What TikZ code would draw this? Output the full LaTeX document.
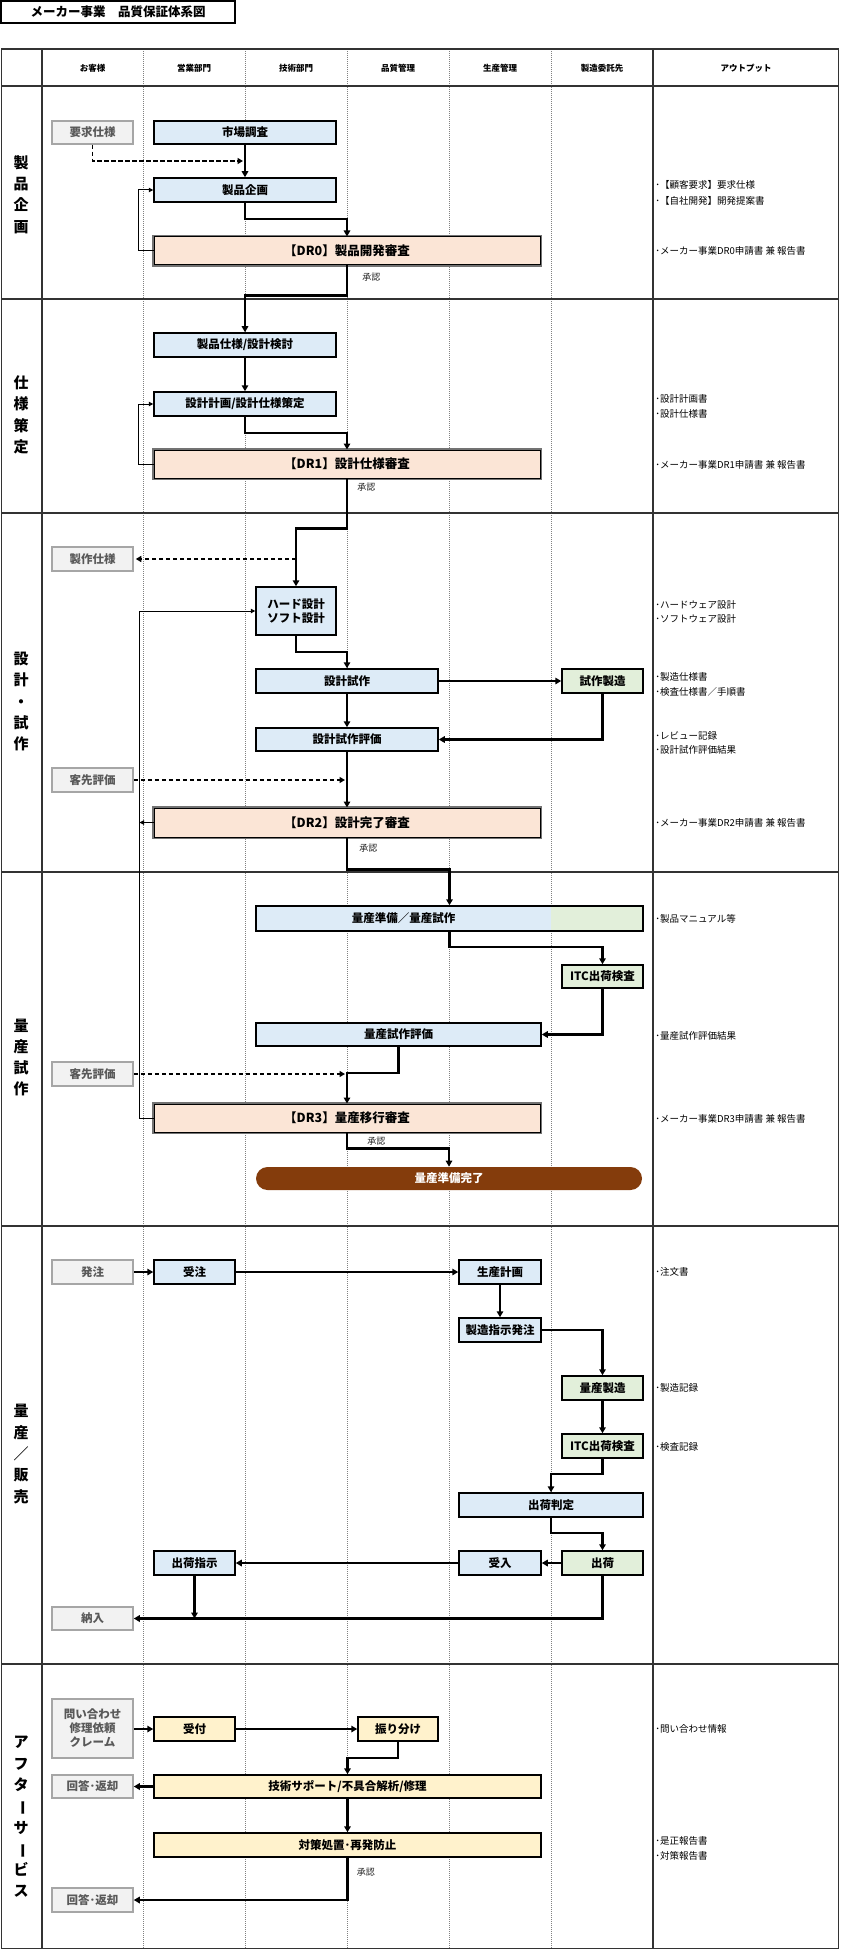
\documentclass[tikz,border=0pt]{standalone}
\usepackage{fontspec}
\setmainfont{Noto Sans CJK JP}
\usetikzlibrary{arrows.meta,calc,positioning}

\definecolor{bluefill}{HTML}{DDEBF7}
\definecolor{greenfill}{HTML}{E2EFDA}
\definecolor{peachfill}{HTML}{FBE5D6}
\definecolor{yellowfill}{HTML}{FFF2CC}
\definecolor{greyfill}{HTML}{F2F2F2}
\definecolor{greyline}{HTML}{A6A6A6}
\definecolor{greytext}{HTML}{595959}
\definecolor{brownfill}{HTML}{843C0C}
\definecolor{gridline}{HTML}{333333}

\tikzset{every picture/.style={line width=0.75pt}}
\tikzset{
  procbox/.style={draw=black, line width=1.5pt, minimum height=24, inner sep=0pt,
    align=center, font=\fontsize{11.5}{14}\selectfont\bfseries},
  bluebox/.style={procbox, fill=bluefill},
  greenbox/.style={procbox, fill=greenfill},
  yellowbox/.style={procbox, fill=yellowfill},
  greybox/.style={procbox, draw=greyline, fill=greyfill, text=greytext, minimum width=81},
  drbox/.style={preaction={draw=black!55, line width=4pt}, draw=black, line width=1pt,
    fill=peachfill, minimum width=386, minimum height=28, inner sep=0pt,
    font=\fontsize{12.5}{14}\selectfont\bfseries},
  pillbox/.style={fill=brownfill, text=white, rounded corners=11.5pt, minimum height=23,
    inner sep=0pt, font=\fontsize{11.5}{14}\selectfont\bfseries},
  hdr/.style={font=\fontsize{8.5}{10}\selectfont\bfseries, inner sep=0pt},
  seclbl/.style={font=\fontsize{15}{21.3}\selectfont\bfseries, align=center, inner sep=0pt},
  outtxt/.style={anchor=west, inner sep=0pt, font=\fontsize{9.5}{11}\selectfont},
  note/.style={anchor=west, inner sep=0pt, font=\fontsize{9}{11}\selectfont, text=black!85},
  flow/.style={line width=2.2pt, -{Triangle[length=6pt,width=6.5pt]}},
  fback/.style={line width=1pt, -{Triangle[length=4.5pt,width=4.5pt]}},
  dasharr/.style={line width=1.6pt, dash pattern=on 4.5pt off 2.5pt,
    -{Triangle[length=5.5pt,width=6pt]}, shorten >=2pt},
  lane/.style={line width=0.6pt, gray, dash pattern=on 1pt off 1pt},
}

\begin{document}
\begin{tikzpicture}[x=1pt,y=1pt,yscale=-1,xscale=1]
\useasboundingbox (0,0) rectangle (840,1950);

% Text Node
\node[draw, line width=1.2pt, minimum width=234, minimum height=22, inner sep=0pt,
  font=\fontsize{12.5}{14}\selectfont\bfseries] (title) at (118,12) {メーカー事業　品質保証体系図};

%Shape: Table
\foreach \lx in {143,245,347,449,551}
  \draw[lane] (\lx,49) -- (\lx,1949);
\foreach \ry in {86,299,513,872,1226,1664}
  \draw[gridline, line width=1.5pt] (1.5,\ry) -- (838.5,\ry);
\draw[gridline, line width=1.2pt] (42,49) -- (42,1949);
\draw[gridline, line width=1.2pt] (653,49) -- (653,1949);
\draw[gridline, line width=1.5pt] (1.5,49) rectangle (838.5,1948.5);

% Text Node
\node[hdr] (h1) at (92.5,68) {お客様};
\node[hdr] (h2) at (194,68) {営業部門};
\node[hdr] (h3) at (296,68) {技術部門};
\node[hdr] (h4) at (398,68) {品質管理};
\node[hdr] (h5) at (500,68) {生産管理};
\node[hdr] (h6) at (602,68) {製造委託先};
\node[hdr] (h7) at (746,68) {アウトプット};

% Text Node
\node[seclbl] (s1) at (21,194.5) {製\\品\\企\\画};
\node[seclbl] (s2) at (21,415) {仕\\様\\策\\定};
\node[seclbl] (s3) at (21,701.5) {設\\計\\・\\試\\作};
\node[seclbl] (s4) at (21,1057.5) {量\\産\\試\\作};
\node[seclbl] (s5) at (21,1454) {量\\産\\／\\販\\売};
\node[seclbl] (s6) at (21,1817) {ア\\フ\\タ\\\rotatebox[origin=c]{-90}{ー}\\サ\\\rotatebox[origin=c]{-90}{ー}\\ビ\\ス};

%Shape: 製品企画
\node[greybox, minimum height=23] (youkyu) at (92.5,132.5) {要求仕様};
\node[bluebox, minimum width=182, minimum height=23] (shijou) at (245,132.5) {市場調査};
\node[bluebox, minimum width=182] (kikaku) at (245,190) {製品企画};
\node[drbox] (dr0) at (347,251) {【DR0】製品開発審査};
\node[note] (ok0) at ($(dr0.south)+(15,12)$) {承認};

\draw[dasharr] (youkyu.south) |- ($(shijou.south)!0.5!(kikaku.north)$);
\draw[flow] (shijou.south) -- (kikaku.north);
\draw[flow] (kikaku.south) -- ++(0,16) -| (dr0.north);
\draw[fback] (dr0.west) -- ++(-15,0) |- (kikaku.west);

%Shape: 仕様策定
\node[bluebox, minimum width=182] (shiyou) at (245,345) {製品仕様/設計検討};
\node[bluebox, minimum width=182] (keikaku) at (245,404) {設計計画/設計仕様策定};
\node[drbox] (dr1) at (347,464) {【DR1】設計仕様審査};
\node[note] (ok1) at ($(dr1.south)+(10,9)$) {承認};

\draw[flow] (dr0.south) -- ++(0,30) -| (shiyou.north);
\draw[flow] (shiyou.south) -- (keikaku.north);
\draw[flow] (keikaku.south) -- ++(0,16) -| (dr1.north);
\draw[fback] (dr1.west) -- ++(-15,0) |- (keikaku.west);

%Shape: 設計・試作
\node[greybox] (seisaku) at (92.5,559) {製作仕様};
\node[bluebox, minimum width=80, minimum height=48] (hard) at (296,611) {ハード設計\\ソフト設計};
\node[bluebox, minimum width=182] (shisaku) at (347,681) {設計試作};
\node[greenbox, minimum width=81] (shizou) at (602.5,681) {試作製造};
\node[bluebox, minimum width=182, minimum height=23] (hyouka) at (347,739.5) {設計試作評価};
\node[greybox] (kyaku1) at (92.5,780) {客先評価};
\node[drbox, minimum height=29] (dr2) at (347,822.5) {【DR2】設計完了審査};
\node[note] (ok2) at ($(dr2.south)+(12,11)$) {承認};

\draw[flow] (dr1.south) -- ++(0,50) -| (hard.north);
\draw[dasharr] (hard.north |- seisaku.east) -- (seisaku.east);
\draw[flow] (hard.south) -- ++(0,16) -| (shisaku.north);
\draw[flow] (shisaku.east) -- (shizou.west);
\draw[flow] (shizou.south) |- (hyouka.east);
\draw[flow] (shisaku.south) -- (hyouka.north);
\draw[flow] (hyouka.south) -- (dr2.north);
\draw[dasharr] (kyaku1.east) -- (kyaku1.east -| hyouka.south);

%Shape: 量産試作
\node[bluebox, minimum width=387, minimum height=25,
  path picture={\fill[greenfill] ([xshift=295pt]path picture bounding box.south west) rectangle (path picture bounding box.north east);},
  label={[xshift=-46pt, font=\fontsize{11.5}{14}\selectfont\bfseries]center:量産準備／量産試作}] (junbi) at (449.5,918.5) {};
\node[greenbox, minimum width=81, minimum height=23] (itc1) at (602.5,976.5) {ITC出荷検査};
\node[bluebox, minimum width=285, minimum height=23] (rhyouka) at (398.5,1034.5) {量産試作評価};
\node[greybox] (kyaku2) at (92.5,1074) {客先評価};
\node[drbox] (dr3) at (347,1118) {【DR3】量産移行審査};
\node[note] (ok3) at ($(dr3.south)+(20,9)$) {承認};
\node[pillbox, minimum width=386] (kanryou) at (449,1178.5) {量産準備完了};

\draw[fback] (dr3.west) -- ++(-14,0) coordinate (fbk) |- (hard.west);
\draw[fback] (dr2.west) -- (dr2.west -| fbk);
\draw[flow] (dr2.south) -- ++(0,32) -| (junbi.north);
\draw[flow] (junbi.south) -- ++(0,15) -| (itc1.north);
\draw[flow] (itc1.south) |- (rhyouka.east);
\draw[flow] (rhyouka.south) -- ++(0,26) -| (dr3.north);
\draw[dasharr] (kyaku2.east) -- (kyaku2.east -| dr3.north);
\draw[flow] (dr3.south) -- ++(0,16) -| (kanryou.north);

%Shape: 量産／販売
\node[greybox] (hacchu) at (92.5,1272) {発注};
\node[bluebox, minimum width=81] (juchu) at (194.5,1272) {受注};
\node[bluebox, minimum width=82] (seikei) at (500,1272) {生産計画};
\node[bluebox, minimum width=82] (shiji) at (500,1330) {製造指示発注};
\node[greenbox, minimum width=81] (ryouzou) at (602.5,1388) {量産製造};
\node[greenbox, minimum width=81] (itc2) at (602.5,1446) {ITC出荷検査};
\node[bluebox, minimum width=184] (hantei) at (551,1505) {出荷判定};
\node[greenbox, minimum width=81] (shukka) at (602.5,1563) {出荷};
\node[bluebox, minimum width=82] (ukeire) at (500,1563) {受入};
\node[bluebox, minimum width=81] (shijis) at (194.5,1563) {出荷指示};
\node[greybox, minimum height=23] (nounyu) at (92.5,1618.5) {納入};

\draw[flow] (hacchu.east) -- (juchu.west);
\draw[flow] (juchu.east) -- (seikei.west);
\draw[flow] (seikei.south) -- (shiji.north);
\draw[flow] (shiji.east) -| (ryouzou.north);
\draw[flow] (ryouzou.south) -- (itc2.north);
\draw[flow] (itc2.south) -- ++(0,15) -| (hantei.north);
\draw[flow] (hantei.south) -- ++(0,15) -| (shukka.north);
\draw[flow] (shukka.west) -- (ukeire.east);
\draw[flow] (ukeire.west) -- (shijis.east);
\draw[flow] (shijis.south) -- (shijis.south |- nounyu.east);
\draw[flow] (shukka.south) |- (nounyu.east);

%Shape: アフターサービス
\node[greybox, minimum height=59] (toiawase) at (92.5,1728.5) {問い合わせ\\修理依頼\\クレーム};
\node[yellowbox, minimum width=81] (uketsuke) at (194.5,1729) {受付};
\node[yellowbox, minimum width=80] (furiwake) at (398,1729) {振り分け};
\node[greybox, minimum height=23] (kaitou1) at (92.5,1786.5) {回答･返却};
\node[yellowbox, minimum width=387, minimum height=23] (gijutsu) at (347.5,1786.5) {技術サポート/不具合解析/修理};
\node[yellowbox, minimum width=387] (taisaku) at (347.5,1845) {対策処置･再発防止};
\node[note] (ok4) at ($(taisaku.south)+(9,14)$) {承認};
\node[greybox] (kaitou2) at (92.5,1900) {回答･返却};

\draw[flow] (toiawase.east |- uketsuke.west) -- (uketsuke.west);
\draw[flow] (uketsuke.east) -- (furiwake.west);
\draw[flow] (furiwake.south) -- ++(0,16) -| (gijutsu.north);
\draw[flow] (gijutsu.west) -- (kaitou1.east);
\draw[flow] (gijutsu.south) -- (taisaku.north);
\draw[flow] (taisaku.south) |- (kaitou2.east);

% Text Node
\node[outtxt] (o1) at (655,185) {･【顧客要求】要求仕様};
\node[outtxt] (o2) at (655,201) {･【自社開発】開発提案書};
\node[outtxt] (o3) at (655,251) {･メーカー事業DR0申請書 兼 報告書};
\node[outtxt] (o4) at (655,399) {･設計計画書};
\node[outtxt] (o5) at (655,414) {･設計仕様書};
\node[outtxt] (o6) at (655,465) {･メーカー事業DR1申請書 兼 報告書};
\node[outtxt] (o7) at (655,605) {･ハードウェア設計};
\node[outtxt] (o8) at (655,619) {･ソフトウェア設計};
\node[outtxt] (o9) at (655,677) {･製造仕様書};
\node[outtxt] (o10) at (655,692) {･検査仕様書／手順書};
\node[outtxt] (o11) at (655,736) {･レビュー記録};
\node[outtxt] (o12) at (655,750) {･設計試作評価結果};
\node[outtxt] (o13) at (655,823) {･メーカー事業DR2申請書 兼 報告書};
\node[outtxt] (o14) at (655,919) {･製品マニュアル等};
\node[outtxt] (o15) at (655,1036) {･量産試作評価結果};
\node[outtxt] (o16) at (655,1119) {･メーカー事業DR3申請書 兼 報告書};
\node[outtxt] (o17) at (655,1272) {･注文書};
\node[outtxt] (o18) at (655,1388) {･製造記録};
\node[outtxt] (o19) at (655,1447) {･検査記録};
\node[outtxt] (o20) at (655,1729) {･問い合わせ情報};
\node[outtxt] (o21) at (655,1841) {･是正報告書};
\node[outtxt] (o22) at (655,1856) {･対策報告書};

\end{tikzpicture}
\end{document}
